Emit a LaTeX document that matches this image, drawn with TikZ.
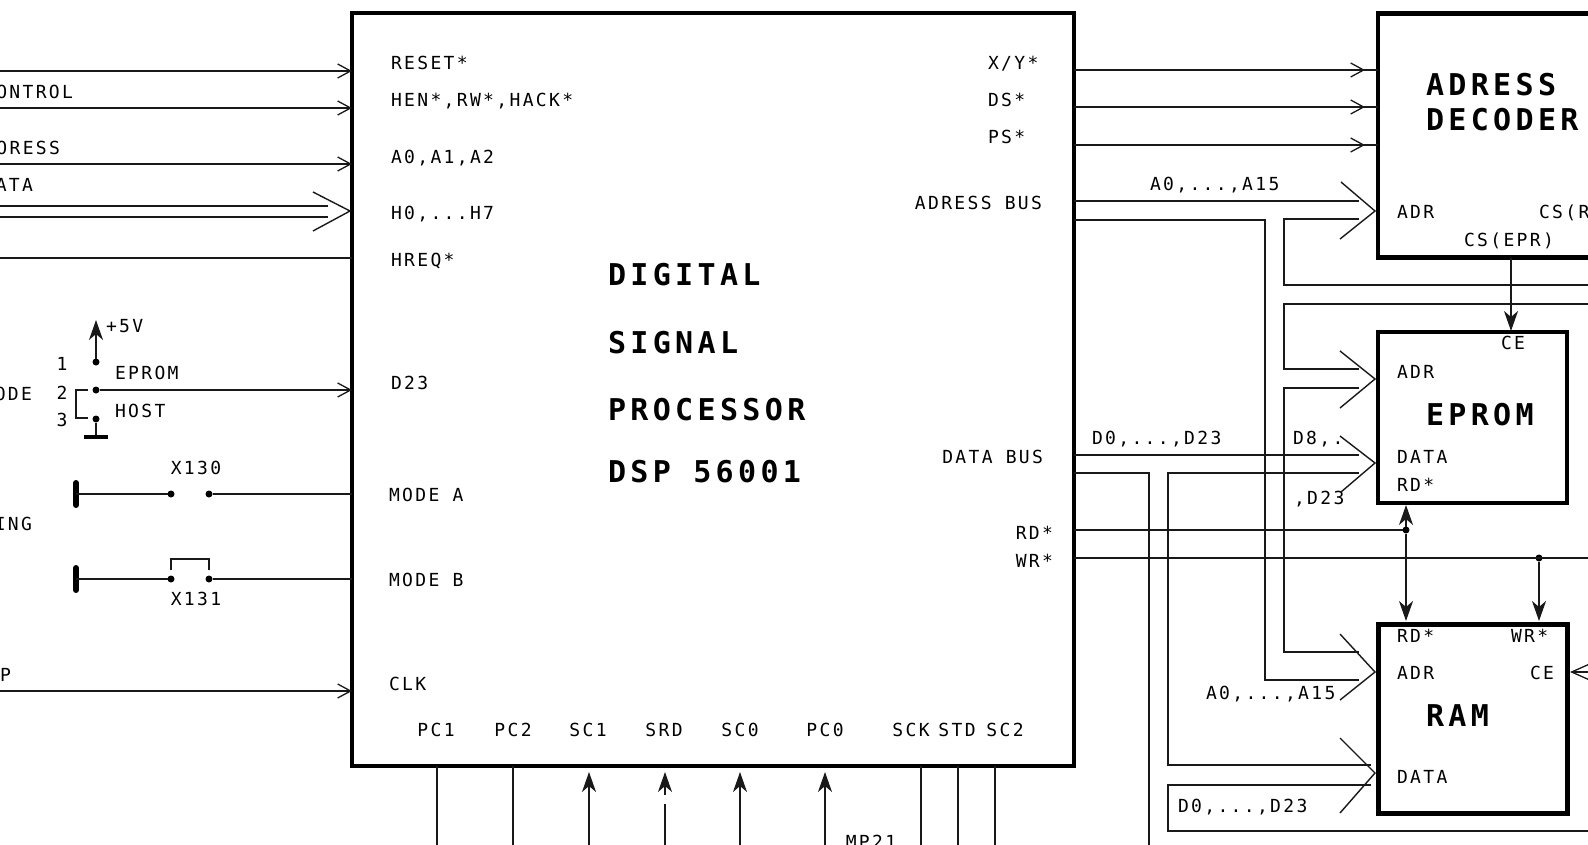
\documentclass[tikz,border=0pt]{standalone}
\usepackage{fontspec}
\usetikzlibrary{arrows.meta}
\newfontfamily\monoA[LetterSpace=13]{DejaVu Sans Mono}
\newfontfamily\monoB[LetterSpace=14.5]{DejaVu Sans Mono Bold}
\newcommand\lblfont{\monoA\fontsize{18}{20}\selectfont}
\newcommand\bigfont{\monoB\fontsize{30}{32}\selectfont}
\tikzset{
  wire/.style={line width=1.3pt,line join=miter,draw=black!90},
  barb/.style={wire,-{Straight Barb[length=13pt,width=14pt,line width=1.3pt]}},
  solidtip/.style={wire,-{Stealth[length=20pt,width=14pt,inset=6pt]}},
  bigbarb/.style={line width=1.4pt,draw=black!90},
  block/.style={draw=black,line width=4.5pt,inner sep=0pt,outer sep=0pt,rectangle},
  lbl/.style={anchor=west,inner sep=0pt,outer sep=0pt,text height=13pt,text depth=0pt,font=\lblfont},
  lble/.style={lbl,anchor=east},
  lblc/.style={lbl,anchor=center},
  title/.style={anchor=west,inner sep=0pt,outer sep=0pt,text height=22pt,text depth=0pt,font=\bigfont},
  jdot/.style={circle,fill=black,inner sep=0pt,outer sep=0pt,minimum size=7pt},
}
\begin{document}
\begin{tikzpicture}[x=1pt,y=-1pt]
\useasboundingbox (0,0) rectangle (1588,845);
\clip (0,0) rectangle (1588,845);
% blocks
\node[block,minimum width=722pt,minimum height=753pt] (dsp) at (713,389.5) {};
\node[block,minimum width=240pt,minimum height=244pt] (dec) at (1498,135.5) {};
\node[block,minimum width=189pt,minimum height=171pt] (eprom) at (1472.5,417.5) {};
\node[block,minimum width=189pt,minimum height=189pt,line width=5pt] (ram) at (1472.5,718.5) {};
% DSP text
\node[title] (t1) at (608,274) {DIGITAL};
\node[title] (t2) at (608,342) {SIGNAL};
\node[title] (t3) at (608,409) {PROCESSOR};
\node[title] (t4) at (608,471) {DSP 56001};
\node[lbl] (l1) at (391,63) {RESET*};
\node[lbl] (l2) at (391,100) {HEN*,RW*,HACK*};
\node[lbl] (l3) at (391,157) {A0,A1,A2};
\node[lbl] (l4) at (391,213) {H0,...H7};
\node[lbl] (l5) at (391,260) {HREQ*};
\node[lbl] (l6) at (391,383) {D23};
\node[lbl] (l7) at (389,495) {MODE A};
\node[lbl] (l8) at (389,580) {MODE B};
\node[lbl] (l9) at (389,684) {CLK};
\node[lblc] (b1) at (436,730) {PC1};
\node[lblc] (b2) at (513,730) {PC2};
\node[lblc] (b3) at (588,730) {SC1};
\node[lblc] (b4) at (664,730) {SRD};
\node[lblc] (b5) at (740,730) {SC0};
\node[lblc] (b6) at (825,730) {PC0};
\node[lblc] (b7) at (911,730) {SCK};
\node[lblc] (b8) at (957,730) {STD};
\node[lblc] (b9) at (1005,730) {SC2};
\node[lbl] (r1) at (988,63) {X/Y*};
\node[lbl] (r2) at (988,100) {DS*};
\node[lbl] (r3) at (988,137) {PS*};
\node[lble] (r4) at (1042,203) {ADRESS BUS};
\node[lble] (r5) at (1043,457) {DATA BUS};
\node[lble] (r6) at (1053,533) {RD*};
\node[lble] (r7) at (1053,561) {WR*};
% left clipped labels
\node[lble] (c1) at (73,92) {ONTROL};
\node[lble] (c2) at (60,148) {ORESS};
\node[lble] (c3) at (33,185) {ATA};
\node[lble] (c4) at (32,394) {ODE};
\node[lble] (c5) at (32,524) {ING};
\node[lble] (c6) at (11,675) {P};
% jumper labels
\node[lbl] (v5) at (106,326) {+5V};
\node[lblc] (n1) at (62,364) {1};
\node[lblc] (n2) at (62,393) {2};
\node[lblc] (n3) at (62,420) {3};
\node[lbl] (ep) at (115,373) {EPROM};
\node[lbl] (ho) at (115,411) {HOST};
\node[lblc] (x0) at (196,468) {X130};
\node[lblc] (x1) at (196,599) {X131};
\node[lblc] (mp) at (871,842) {MP21};
% decoder text
\node[title] (d1) at (1426,85) {ADRESS};
\node[title] (d2) at (1426,120) {DECODER};
\node[lbl] (d3) at (1397,212) {ADR};
\node[lbl] (d4) at (1539,212) {CS(R};
\node[lbl] (d5) at (1464,240) {CS(EPR)};
\node[lbl] (a15) at (1150,184) {A0,...,A15};
% eprom text
\node[lblc] (e1) at (1513,343) {CE};
\node[lbl] (e2) at (1397,372) {ADR};
\node[title] (e3) at (1426,414) {EPROM};
\node[lbl] (e4) at (1397,457) {DATA};
\node[lbl] (e5) at (1397,485) {RD*};
\node[lbl] (dd) at (1092,438) {D0,...,D23};
\node[lbl] (d8) at (1293,438) {D8,.};
\node[lbl] (d23) at (1294,498) {,D23};
% ram text
\node[lbl] (m1) at (1397,636) {RD*};
\node[lbl] (m2) at (1511,636) {WR*};
\node[lbl] (m3) at (1397,673) {ADR};
\node[lbl] (m4) at (1530,673) {CE};
\node[title] (m5) at (1426,715) {RAM};
\node[lbl] (m6) at (1397,777) {DATA};
\node[lbl] (a15b) at (1206,693) {A0,...,A15};
\node[lbl] (ddb) at (1178,806) {D0,...,D23};
% left inputs
\coordinate (i1) at (0,71);
\coordinate (i2) at (0,108);
\coordinate (i3) at (0,164);
\coordinate (i4) at (0,206);
\coordinate (i5) at (0,217);
\coordinate (i6) at (0,258);
\coordinate (i7) at (0,691);
\draw[barb] (i1) -- (i1 -| dsp.west);
\draw[barb] (i2) -- (i2 -| dsp.west);
\draw[barb] (i3) -- (i3 -| dsp.west);
\draw[barb] (i7) -- (i7 -| dsp.west);
\draw[wire] (i6) -- (i6 -| dsp.west);
\coordinate (i4e) at (328,206);
\coordinate (i5e) at (328,217);
\draw[wire] (i4) -- (i4e);
\draw[wire] (i5) -- (i5e);
\coordinate (h1) at (313,192);
\coordinate (h2) at (350,211);
\coordinate (h3) at (313,231);
\draw[bigbarb] (h1) -- (h2) -- (h3);
% jumper
\node[jdot] (j1) at (96,362) {};
\node[jdot] (j2) at (96,390) {};
\node[jdot] (j3) at (96,419) {};
\coordinate (vcc) at (96,320);
\draw[solidtip] (j1) -- (vcc);
\draw[barb] (j2) -- (j2 -| dsp.west);
\coordinate (br1) at (76,390);
\coordinate (br2) at (76,418);
\coordinate (br3) at (88,390);
\coordinate (br4) at (88,418);
\draw[wire] (br3) -- (br1) -- (br2) -- (br4);
\coordinate (g0) at (96,437);
\coordinate (g1) at (84,437);
\coordinate (g2) at (108,437);
\draw[wire] (j3) -- (g0);
\draw[line width=3.5pt] (g1) -- (g2);
% MODE A
\coordinate (ba1) at (76,483);
\coordinate (ba2) at (76,505);
\coordinate (ba0) at (76,494);
\draw[line width=6pt,line cap=round] (ba1) -- (ba2);
\node[jdot] (xa1) at (171,494) {};
\node[jdot] (xa2) at (209,494) {};
\draw[wire] (ba0) -- (xa1);
\draw[wire] (xa2) -- (xa2 -| dsp.west);
% MODE B
\coordinate (bb1) at (76,568);
\coordinate (bb2) at (76,590);
\coordinate (bb0) at (76,579);
\draw[line width=6pt,line cap=round] (bb1) -- (bb2);
\node[jdot] (xb1) at (171,579) {};
\node[jdot] (xb2) at (209,579) {};
\draw[wire] (bb0) -- (xb1);
\draw[wire] (xb2) -- (xb2 -| dsp.west);
\coordinate (s1) at (171,570);
\coordinate (s2) at (171,559);
\coordinate (s3) at (209,559);
\coordinate (s4) at (209,570);
\draw[wire] (s1) -- (s2) -- (s3) -- (s4);
% bottom pins
\coordinate (p1) at (437,845);
\coordinate (p2) at (513,845);
\coordinate (p3) at (589,845);
\coordinate (p4) at (665,845);
\coordinate (p4g) at (665,804);
\coordinate (p4h) at (665,795);
\coordinate (p4t) at (665,772);
\coordinate (p5) at (740,845);
\coordinate (p6) at (825,845);
\coordinate (p7) at (921,845);
\coordinate (p8) at (958,845);
\coordinate (p9) at (995,845);
\draw[wire] (p1) -- (p1 |- dsp.south);
\draw[wire] (p2) -- (p2 |- dsp.south);
\coordinate (p3t) at (589,772);
\coordinate (p5t) at (740,772);
\coordinate (p6t) at (825,772);
\draw[solidtip] (p3) -- (p3t);
\draw[wire] (p4) -- (p4g);
\draw[solidtip] (p4h) -- (p4t);
\draw[solidtip] (p5) -- (p5t);
\draw[solidtip] (p6) -- (p6t);
\draw[wire] (p7) -- (p7 |- dsp.south);
\draw[wire] (p8) -- (p8 |- dsp.south);
\draw[wire] (p9) -- (p9 |- dsp.south);
% DSP to decoder
\coordinate (q1) at (1365,70);
\coordinate (q2) at (1365,107);
\coordinate (q3) at (1365,145);
\draw[wire] (q1 -| dsp.east) -- (q1 -| dec.west);
\draw[barb] (q1 -| dsp.east) -- (q1);
\draw[wire] (q2 -| dsp.east) -- (q2 -| dec.west);
\draw[barb] (q2 -| dsp.east) -- (q2);
\draw[wire] (q3 -| dsp.east) -- (q3 -| dec.west);
\draw[barb] (q3 -| dsp.east) -- (q3);
% address bus
\coordinate (ab1) at (1359,201);
\draw[wire] (ab1 -| dsp.east) -- (ab1);
\coordinate (ab2) at (1265,220);
\coordinate (ab3) at (1265,680);
\coordinate (ab4) at (1359,680);
\draw[wire] (ab2 -| dsp.east) -- (ab2) -- (ab3) -- (ab4);
\coordinate (ar1) at (1359,219);
\coordinate (ar2) at (1284,219);
\coordinate (ar3) at (1284,285);
\coordinate (ar4) at (1588,285);
\draw[wire] (ar1) -- (ar2) -- (ar3) -- (ar4);
\coordinate (as1) at (1588,304);
\coordinate (as2) at (1284,304);
\coordinate (as3) at (1284,369);
\coordinate (as4) at (1359,369);
\draw[wire] (as1) -- (as2) -- (as3) -- (as4);
\coordinate (at1) at (1359,388);
\coordinate (at2) at (1284,388);
\coordinate (at3) at (1284,652);
\coordinate (at4) at (1359,652);
\draw[wire] (at1) -- (at2) -- (at3) -- (at4);
% data bus
\coordinate (db1) at (1359,455);
\draw[wire] (db1 -| dsp.east) -- (db1);
\coordinate (db2) at (1149,473);
\coordinate (db3) at (1149,845);
\draw[wire] (db2 -| dsp.east) -- (db2) -- (db3);
\coordinate (dc1) at (1359,473);
\coordinate (dc2) at (1168,473);
\coordinate (dc3) at (1168,765);
\coordinate (dc4) at (1371,765);
\draw[wire] (dc1) -- (dc2) -- (dc3) -- (dc4);
\coordinate (de1) at (1371,785);
\coordinate (de2) at (1168,785);
\coordinate (de3) at (1168,831);
\coordinate (de4) at (1588,831);
\draw[wire] (de1) -- (de2) -- (de3) -- (de4);
% big barbs
\coordinate (u1) at (1341,182); \coordinate (u2) at (1375,211); \coordinate (u3) at (1340,239);
\draw[bigbarb] (u1) -- (u2) -- (u3);
\coordinate (v1) at (1340,351); \coordinate (v2) at (1375,379); \coordinate (v3) at (1340,408);
\draw[bigbarb] (v1) -- (v2) -- (v3);
\coordinate (w1) at (1340,436); \coordinate (w2) at (1375,463); \coordinate (w3) at (1341,492);
\draw[bigbarb] (w1) -- (w2) -- (w3);
\coordinate (y1) at (1340,634); \coordinate (y2) at (1375,672); \coordinate (y3) at (1340,700);
\draw[bigbarb] (y1) -- (y2) -- (y3);
\coordinate (z1) at (1340,738); \coordinate (z2) at (1375,773); \coordinate (z3) at (1340,813);
\draw[bigbarb] (z1) -- (z2) -- (z3);
% CS(EPR)
\coordinate (cs1) at (1511,258);
\coordinate (cs2) at (1511,331);
\draw[solidtip] (cs1) -- (cs2);
% RD*, WR*
\node[jdot] (rdj) at (1406,530) {};
\node[jdot] (wrj) at (1539,558) {};
\draw[wire] (rdj -| dsp.east) -- (rdj);
\coordinate (wre) at (1588,558);
\draw[wire] (wrj -| dsp.east) -- (wre);
\coordinate (rdu) at (1406,505);
\coordinate (rdd) at (1406,621);
\coordinate (wrd) at (1539,621);
\draw[solidtip] (rdj) -- (rdu);
\draw[solidtip] (rdj) -- (rdd);
\draw[solidtip] (wrj) -- (wrd);
% RAM CE
\coordinate (ce1) at (1588,672);
\coordinate (ce2) at (1570,672);
\draw[wire,-{Straight Barb[length=18pt,width=16pt,line width=1.3pt]}] (ce1) -- (ce2);
\end{tikzpicture}
\end{document}
